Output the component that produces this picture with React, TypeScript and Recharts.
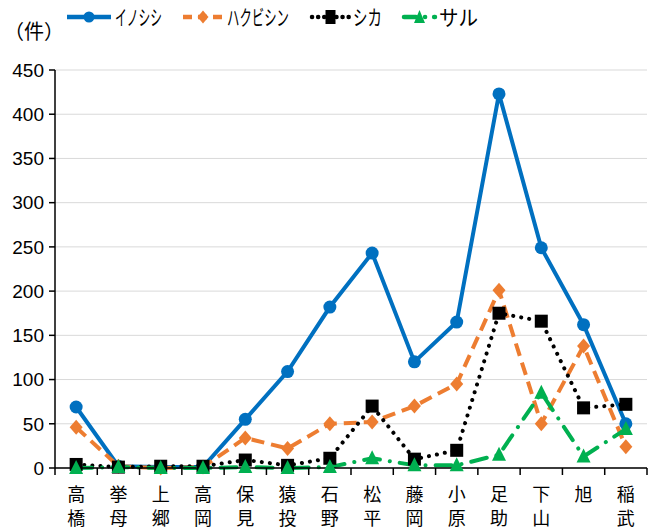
import React from 'react';
import { LineChart, Line, XAxis, YAxis, CartesianGrid, Legend } from 'recharts';

const areas = ['高橋', '挙母', '上郷', '高岡', '保見', '猿投', '石野', '松平', '藤岡', '小原', '足助', '下山', '旭', '稲武'];
const inoshishi = [69, 2, 1, 1, 55, 109, 182, 243, 120, 165, 423, 249, 162, 50];
const hakubishin = [46, 2, 0, 1, 34, 22, 50, 52, 70, 95, 201, 50, 138, 24];
const shika = [4, 1, 2, 2, 9, 3, 11, 70, 10, 20, 175, 166, 68, 72];
const saru = [0, 1, 0, 0, 1, 0, 1, 11, 3, 3, 15, 85, 13, 44];
const yTicks = [0, 50, 100, 150, 200, 250, 300, 350, 400, 450];
const seriesNames = ['イノシシ', 'ハクビシン', 'シカ', 'サル'];

const data = areas.map((a, i) => ({
  idx: i,
  area: a,
  inoshishi: inoshishi[i],
  hakubishin: hakubishin[i],
  shika: shika[i],
  saru: saru[i],
}));

// boundaries (x.5) get a tick mark, integers get the label
const xTicks: number[] = [];
areas.forEach((_, i) => {
  xTicks.push(i - 0.5);
  xTicks.push(i);
});
xTicks.push(areas.length - 0.5);

const BLUE = '#0070C0';
const ORANGE = '#ED7D31';
const GREEN = '#00B050';
const JP = '"Noto Sans CJK JP", "Noto Sans", sans-serif';
const NUM = '"Liberation Sans Narrow", "Liberation Sans", sans-serif';

const XTick = (props: any) => {
  const { x, y, payload } = props;
  const v = payload.value;
  if (!Number.isInteger(v)) {
    return <line x1={x} x2={x} y1={y} y2={y + 7} stroke="#000" strokeWidth={1.5} />;
  }
  const chars = areas[v].split('');
  return (
    <g>
      {chars.map((c, k) => (
        <text key={k} x={x} y={y + 33 + k * 24} textAnchor="middle" fontSize={18} fontFamily={JP} fill="#000">
          {c}
        </text>
      ))}
    </g>
  );
};

const Circle = (p: any) => <circle key={p.index} cx={p.cx} cy={p.cy} r={6.5} fill={BLUE} />;
const Diamond = (p: any) => (
  <path key={p.index} d={`M${p.cx},${p.cy - 7.5}L${p.cx + 6.5},${p.cy}L${p.cx},${p.cy + 7.5}L${p.cx - 6.5},${p.cy}Z`} fill={ORANGE} />
);
const Square = (p: any) => <rect key={p.index} x={p.cx - 6.5} y={p.cy - 6.5} width={13} height={13} fill="#000" />;
const Triangle = (p: any) => (
  <path key={p.index} d={`M${p.cx},${p.cy - 8}L${p.cx + 7},${p.cy + 6}L${p.cx - 7},${p.cy + 6}Z`} fill={GREEN} />
);

const LegendBox = () => {
  const items = [
    { x: 67, w: 44, tw: 47, color: BLUE, dash: undefined, cap: 'butt', mark: 'circle' },
    { x: 183, w: 40, tw: 62, color: ORANGE, dash: '9 6', cap: 'butt', mark: 'diamond' },
    { x: 312, w: 37, tw: 29, color: '#000', dash: '0.1 6', cap: 'round', mark: 'square' },
    { x: 404, w: 31, tw: 39, color: GREEN, dash: '12 9 0.1 9', cap: 'round', mark: 'triangle' },
  ];
  const ly = 17;
  return (
    <svg width={653} height={60} style={{ display: 'block' }}>
      <text x={4} y={39} fontSize={20} fontFamily={JP} fill="#000">（件）</text>
      {items.map((it, i) => {
        const cx = it.x + it.w / 2;
        return (
          <g key={i}>
            <line x1={it.x} x2={it.x + it.w} y1={ly} y2={ly} stroke={it.color} strokeWidth={4.5} strokeDasharray={it.dash} strokeLinecap={it.cap as any} />
            {it.mark === 'circle' && <circle cx={cx} cy={ly} r={5.5} fill={BLUE} />}
            {it.mark === 'diamond' && <path d={`M${cx},${ly - 6.5}L${cx + 5.5},${ly}L${cx},${ly + 6.5}L${cx - 5.5},${ly}Z`} fill={ORANGE} />}
            {it.mark === 'square' && <rect x={cx - 5} y={ly - 7} width={10} height={14} fill="#000" />}
            {it.mark === 'triangle' && <path d={`M${cx},${ly - 7}L${cx + 5.5},${ly + 6}L${cx - 5.5},${ly + 6}Z`} fill={GREEN} />}
            <text x={it.x + it.w + 4} y={ly + 8} fontSize={21} fontFamily={JP} fill="#000" textLength={it.tw} lengthAdjust="spacingAndGlyphs">
              {seriesNames[i]}
            </text>
          </g>
        );
      })}
    </svg>
  );
};

export default function App() {
  return (
    <div style={{ position: 'absolute', left: 0, top: 0, width: 653, height: 529, background: '#fff' }}>
      <LineChart width={653} height={529} data={data} margin={{ top: 10, right: 6, bottom: 0, left: 0 }}>
        <CartesianGrid horizontal vertical={false} stroke="#d9d9d9" strokeWidth={1} />
        <XAxis
          dataKey="idx"
          type="number"
          domain={[-0.5, areas.length - 0.5]}
          ticks={xTicks}
          interval={0}
          tick={<XTick />}
          tickLine={false}
          tickSize={0}
          tickMargin={0}
          height={61}
          axisLine={{ stroke: '#000', strokeWidth: 1.5 }}
        />
        <YAxis
          domain={[0, 450]}
          ticks={yTicks}
          width={55}
          tick={{ fontSize: 19, fontFamily: NUM, fill: '#000' }}
          tickSize={6}
          tickMargin={5}
          axisLine={{ stroke: '#000', strokeWidth: 1.5 }}
          tickLine={{ stroke: '#000', strokeWidth: 1.5 }}
          interval={0}
        />
        <Legend verticalAlign="top" content={() => <LegendBox />} wrapperStyle={{ position: 'absolute', top: 0, left: 0 }} />
        <Line dataKey="inoshishi" name="イノシシ" stroke={BLUE} strokeWidth={4} dot={Circle} isAnimationActive={false} />
        <Line dataKey="hakubishin" name="ハクビシン" stroke={ORANGE} strokeWidth={4} strokeDasharray="13 7" dot={Diamond} isAnimationActive={false} />
        <Line dataKey="shika" name="シカ" stroke="#000" strokeWidth={4} strokeDasharray="0.1 8" strokeLinecap="round" dot={Square} isAnimationActive={false} />
        <Line dataKey="saru" name="サル" stroke={GREEN} strokeWidth={4} strokeDasharray="16 10 0.1 10" strokeLinecap="round" dot={Triangle} isAnimationActive={false} />
      </LineChart>
    </div>
  );
}
